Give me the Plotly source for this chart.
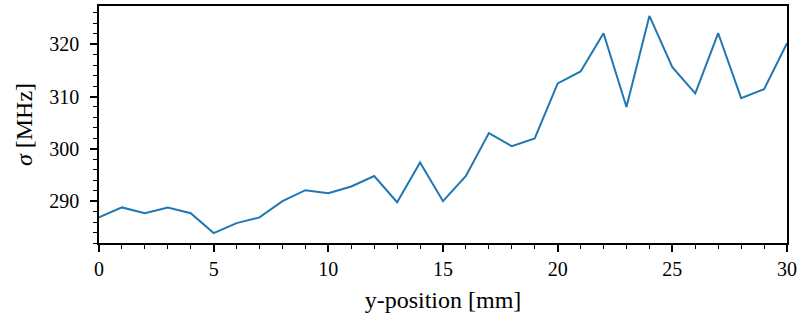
import plotly.graph_objects as go

x_pos = list(range(0, 31))
sigma = [286.9, 288.8, 287.7, 288.8, 287.7, 283.9, 285.8, 286.9, 290.0, 292.1,
         291.5, 292.8, 294.8, 289.8, 297.4, 290.0, 294.8, 303.0, 300.5, 302.0,
         312.5, 314.8, 322.1, 308.0, 325.4, 315.6, 310.6, 322.1, 309.7, 311.4, 320.2]

font = "Liberation Serif"

fig = go.Figure(go.Scatter(x=x_pos, y=sigma, mode="lines",
                           line=dict(color="#1f77b4", width=2)))

fig.update_layout(
    width=800, height=320,
    margin=dict(l=99, r=13, t=6, b=77, autoexpand=False),
    plot_bgcolor="white", paper_bgcolor="white",
    showlegend=False,
    font=dict(family=font, size=20, color="black"),
)
fig.update_xaxes(
    range=[0, 30], tick0=0, dtick=5, showgrid=False, zeroline=False,
    showline=True, linecolor="black", linewidth=1.5, mirror=True,
    ticks="outside", ticklen=7, tickwidth=1.5, tickcolor="black",
    minor=dict(dtick=1, ticks="outside", ticklen=4, tickwidth=1.2, tickcolor="black"),
    title=dict(text="y-position [mm]", standoff=12), automargin=False,
)
fig.update_yaxes(
    range=[282, 327.3], tick0=0, dtick=10, showgrid=False, zeroline=False,
    showline=True, linecolor="black", linewidth=1.5, mirror=True,
    ticks="outside", ticklen=7, tickwidth=1.5, tickcolor="black",
    ticklabelstandoff=7,
    minor=dict(dtick=2, ticks="outside", ticklen=4, tickwidth=1.2, tickcolor="black"),
    title=dict(text="<i>σ</i> [MHz]", standoff=10), automargin=False,
)

fig.write_html("out.html")
